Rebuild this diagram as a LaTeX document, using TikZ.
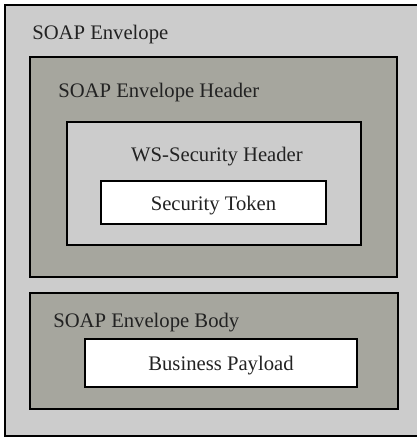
\documentclass[tikz,border=0pt]{standalone}
\usepackage{fontspec}
\setmainfont{Liberation Serif}
\definecolor{envgray}{HTML}{CCCCCC}
\definecolor{hdrgray}{HTML}{A6A69E}
\definecolor{inkdark}{HTML}{222222}
\begin{document}
\begin{tikzpicture}[x=0.75pt,y=-0.75pt,
  layer/.style={draw=black, line width=2pt, inner sep=0pt, outer sep=0pt},
  caption/.style={text=inkdark, font=\fontsize{15.5}{18}\selectfont, inner sep=0pt}]
  \useasboundingbox (0,0) rectangle (417,437);
  \clip (0,0) rectangle (417,437);
  % nested envelope layers
  \node[layer, fill=envgray, minimum width=312.75pt, minimum height=323.25pt] (env) at (213.5,220.5) {};
  \node[layer, fill=hdrgray, minimum width=275.25pt, minimum height=165pt] (hdr) at (213.5,167) {};
  \node[layer, fill=envgray, minimum width=220.5pt, minimum height=92.25pt] (wss) at (214,183.5) {};
  \node[layer, fill=white, minimum width=168.75pt, minimum height=32.25pt] (tok) at (213.5,202.5) {};
  \node[layer, fill=hdrgray, minimum width=276pt, minimum height=87pt] (body) at (214,351) {};
  \node[layer, fill=white, minimum width=204pt, minimum height=36pt] (pay) at (221,363) {};
  % captions
  \node[caption, anchor=base west] (envtxt) at (32,39) {SOAP Envelope};
  \node[caption, anchor=base west] (hdrtxt) at (58,97) {SOAP Envelope Header};
  \node[caption, anchor=base] (wsstxt) at (217,161) {WS-Security Header};
  \node[caption, anchor=base] (toktxt) at (213.5,210) {Security Token};
  \node[caption, anchor=base west] (bodytxt) at (53,327) {SOAP Envelope Body};
  \node[caption, anchor=base] (paytxt) at (221,370) {Business Payload};
\end{tikzpicture}
\end{document}
